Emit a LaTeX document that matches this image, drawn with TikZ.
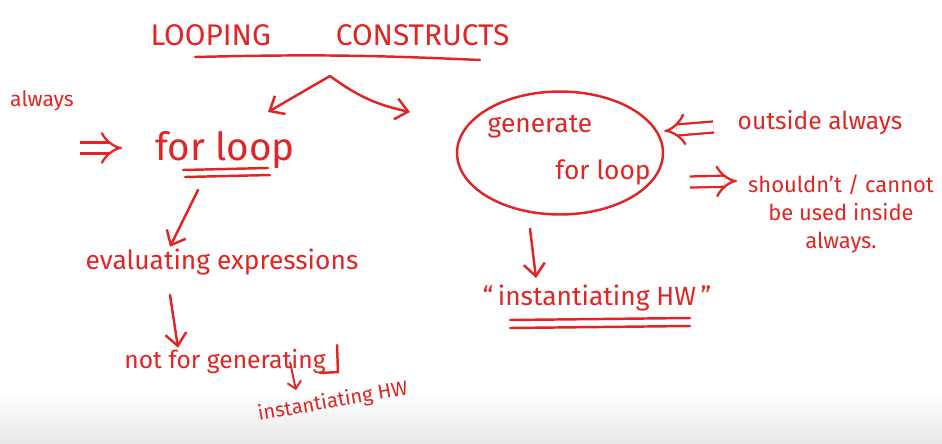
\documentclass[tikz,border=0pt]{standalone}
\usepackage{fontspec}
\setmainfont{Fira Sans}
\usetikzlibrary{positioning,arrows.meta,shapes.geometric}
\definecolor{inkred}{RGB}{226,36,36}

\begin{document}
\begin{tikzpicture}[x=0.02cm,y=-0.02cm,
  ink/.style={inkred, line width=1.4pt, line cap=round},
  note/.style={inkred, inner sep=1pt},
  arr/.style={ink, -{Straight Barb[length=7pt,width=12pt]}},
  dbl/.style={inkred, line width=1.3pt, double distance=5pt, -{Implies[length=6pt]}}]

  \useasboundingbox (0,0) rectangle (942,443);
  \shade[top color=white, bottom color=black!9] (0,392) rectangle (942,443);

  % title
  \node[note, font=\fontsize{17}{20}\selectfont] (title) at (330,35) {LOOPING\hspace{1.3cm}CONSTRUCTS};
  \draw[ink] (195,57) to[bend left=2] (480,60);
  \coordinate (split) at (330,76);
  \coordinate (toleft) at (268,112);
  \coordinate (toright) at (410,112);
  \draw[arr] (split) -- (toleft);
  \draw[arr] (split) to[bend right=12] (toright);

  % left branch
  \node[note, font=\fontsize{12}{14}\selectfont] (always) at (42,101) {always};
  \node[note, font=\fontsize{22}{24}\selectfont] (forloop) at (225,150) {for loop};
  \coordinate (alwin) at (80,148);
  \draw[dbl] (alwin) -- (122,148);
  \draw[ink] (183,170) -- (268,168);
  \draw[ink] (185,177) -- (270,175);

  \node[note, font=\fontsize{15}{18}\selectfont] (evalexpr) at (222,262) {evaluating expressions};
  \coordinate (forout) at (198,190);
  \draw[arr] (forout) -- (evalexpr.north -| 170,0);

  \node[note, font=\fontsize{14}{17}\selectfont] (notfor) at (225,362) {not for generating};
  \coordinate (evalout) at (170,295);
  \draw[arr] (evalout) -- (notfor.north -| 178,0);
  \draw[ink] (337,345) -- (338,372) -- (320,373);

  \node[note, font=\fontsize{11.5}{14}\selectfont, rotate=10] (insthw) at (333,402) {instantiating HW};
  \coordinate (genout) at (290,362);
  \draw[inkred, line width=1.1pt, -{Straight Barb[length=4pt,width=8pt]}] (genout) -- (insthw.north -| 296,0);

  % right branch
  \node[draw=inkred, line width=1.4pt, ellipse, minimum width=4.12cm, minimum height=2.46cm] (gen) at (560,153) {};
  \node[note, font=\fontsize{15}{18}\selectfont] (gentxt) at (540,127) {generate};
  \node[note, font=\fontsize{15}{18}\selectfont] (fortxt) at (603,172) {for loop};

  \node[note, font=\fontsize{14}{17}\selectfont] (outside) at (820,123) {outside always};
  \draw[dbl] (outside.west) ++(-22,4) -- (gen.east |- 0,131);

  \node[note, font=\fontsize{12.5}{16}\selectfont, align=center] (cannot) at (841,214) {shouldn't / cannot\\be used inside\\always.};
  \coordinate (genright) at (690,182);
  \draw[dbl] (genright) -- (737,181);

  \node[note, font=\fontsize{15}{18}\selectfont] (geninst) at (597,298) {“\,instantiating HW\,”};
  \draw[arr] (gen.south -| 530,0) ++(0,13) -- (536,278);
  \draw[ink] (510,320) -- (690,318);
  \draw[ink] (510,328) -- (690,326);
\end{tikzpicture}
\end{document}
